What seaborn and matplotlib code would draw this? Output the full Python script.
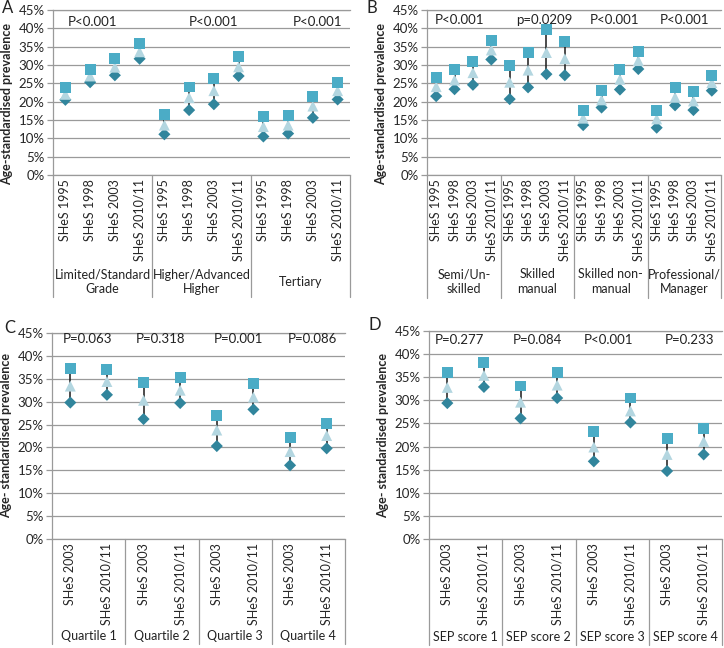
import numpy as np
import pandas as pd
import matplotlib
matplotlib.use("Agg")
import matplotlib.pyplot as plt
import seaborn as sns

# 1. data (values in %)
waves4 = ["SHeS 1995", "SHeS 1998", "SHeS 2003", "SHeS 2010/11"]
waves2 = ["SHeS 2003", "SHeS 2010/11"]

groups_a = ["Limited/Standard\nGrade", "Higher/Advanced\nHigher", "Tertiary"]
upper_a = [23.9, 28.9, 31.7, 35.8, 16.5, 24.0, 26.2, 32.2, 16.0, 16.3, 21.4, 25.1]
est_a = [22.0, 27.0, 29.4, 33.6, 13.6, 21.1, 23.0, 29.5, 13.2, 13.6, 18.8, 23.0]
lower_a = [20.5, 25.3, 27.2, 31.7, 11.1, 17.7, 19.3, 27.0, 10.5, 11.3, 15.6, 20.6]
pvals_a = ["P<0.001", "P<0.001", "P<0.001"]

groups_b = ["Semi/Un-\nskilled", "Skilled\nmanual", "Skilled non-\nmanual", "Professional/\nManager"]
upper_b = [26.7, 28.7, 30.9, 36.6, 29.8, 33.5, 39.6, 36.4, 17.7, 23.0, 28.9, 33.6, 17.6, 23.8, 22.9, 27.2]
est_b = [24.1, 25.9, 27.9, 34.1, 25.3, 28.6, 33.4, 31.7, 15.5, 20.5, 26.1, 31.2, 15.3, 21.2, 20.2, 25.2]
lower_b = [21.5, 23.4, 24.6, 31.5, 20.7, 23.9, 27.5, 27.2, 13.6, 18.4, 23.3, 28.9, 12.9, 19.0, 17.7, 23.0]
pvals_b = ["P<0.001", "p=0.0209", "P<0.001", "P<0.001"]

groups_c = ["Quartile 1", "Quartile 2", "Quartile 3", "Quartile 4"]
upper_c = [37.2, 37.1, 34.2, 35.3, 27.0, 34.0, 22.2, 25.2]
est_c = [33.4, 34.4, 30.3, 32.5, 23.8, 31.0, 19.1, 22.6]
lower_c = [29.8, 31.5, 26.2, 29.7, 20.3, 28.3, 16.1, 19.8]
pvals_c = ["P=0.063", "P=0.318", "P=0.001", "P=0.086"]

groups_d = ["SEP score 1", "SEP score 2", "SEP score 3", "SEP score 4"]
upper_d = [36.1, 38.1, 33.1, 36.0, 23.2, 30.5, 21.7, 23.9]
est_d = [32.8, 35.4, 29.6, 33.3, 19.9, 27.7, 18.3, 21.1]
lower_d = [29.4, 32.9, 26.1, 30.5, 16.8, 25.2, 14.7, 18.3]
pvals_d = ["P=0.277", "P=0.084", "P<0.001", "P=0.233"]

# 2. style
sns.set_theme(style="white")
plt.rcParams["font.family"] = ["Lato", "DejaVu Sans"]
plt.rcParams["text.color"] = "#222222"

palette = {"lower": "#31859C", "estimate": "#B3D6E0", "upper": "#4BACC6"}
markers = {"lower": "D", "estimate": "^", "upper": "s"}
sizes = {"lower": 38, "estimate": 62, "upper": 62}
GRID = "#9a9a9a"
W, H = 724, 648


def draw_panel(box, letter, letter_xy, groups, waves, lower, est, upper,
               pvals, pval_x, pval_y, ylabel, ylabel_y, sep_depth, group_y):
    left, right, top, bottom = box
    ax = fig.add_axes([left / W, 1 - bottom / H, (right - left) / W, (bottom - top) / H])
    n = len(groups) * len(waves)
    x = np.arange(n)
    df = pd.DataFrame({
        "x": np.tile(x, 3),
        "value": lower + est + upper,
        "series": ["lower"] * n + ["estimate"] * n + ["upper"] * n,
    })
    ax.vlines(x, lower, upper, color="#1a1a1a", lw=1.1, zorder=2)
    sns.scatterplot(data=df, x="x", y="value", hue="series", style="series", size="series",
                    palette=palette, markers=markers, sizes=sizes, linewidth=0,
                    legend=False, ax=ax, zorder=3)

    ax.set_xlim(-0.5, n - 0.5)
    ax.set_ylim(0, 45)
    ax.set_yticks(range(0, 50, 5))
    ax.set_yticklabels([f"{v}%" for v in range(0, 50, 5)], fontsize=9.5)
    ax.set_xticks(x)
    ax.set_xticklabels(waves * len(groups), rotation=90, fontsize=9)
    ax.tick_params(axis="x", length=0, pad=3)
    ax.tick_params(axis="y", length=4, width=0.9, color=GRID, direction="out", pad=2, left=True)
    ax.set_xlabel("")
    ax.set_ylabel(ylabel, fontsize=9, fontweight="bold")
    ax.yaxis.set_label_coords(-0.135 * 297 / (right - left), ylabel_y)
    ax.yaxis.grid(True, color=GRID, lw=0.9)
    ax.xaxis.grid(False)
    for s in ["left", "bottom", "top"]:
        ax.spines[s].set_color(GRID)
        ax.spines[s].set_linewidth(0.9)
    ax.spines["right"].set_visible(False)

    # group separators and group labels under the axis
    k = len(waves)
    trans = ax.get_xaxis_transform()
    for b in range(len(groups) + 1):
        ax.plot([b * k - 0.5] * 2, [0, -sep_depth], transform=trans, color=GRID,
                lw=0.9, clip_on=False)
    for i, g in enumerate(groups):
        ax.text(i * k + (k - 1) / 2, group_y, g, transform=trans, ha="center", va="center",
                fontsize=9, linespacing=1.25)

    for px, p in zip(pval_x, pvals):
        ax.text(px, pval_y, p, ha="center", va="center", fontsize=9.5)

    fig.text(letter_xy[0] / W, 1 - letter_xy[1] / H, letter, fontsize=12, ha="left", va="center")
    return ax


fig = plt.figure(figsize=(W / 100, H / 100), dpi=100)

draw_panel((53, 350, 10, 175), "A", (2, 8), groups_a, waves4, lower_a, est_a, upper_a,
           pvals_a, [1.1, 6.0, 10.2], 41.6, "Age-standardised prevalence", 0.43, 0.74, -0.648)
draw_panel((427, 721, 10, 175), "B", (366, 8), groups_b, waves4, lower_b, est_b, upper_b,
           pvals_b, [1.25, 5.9, 9.7, 13.5], 42.3, "Age-standardised prevalence", 0.43, 0.745, -0.645)
draw_panel((52, 345, 333, 539), "C", (4, 328), groups_c, waves2, lower_c, est_c, upper_c,
           pvals_c, [0.46, 2.45, 4.6, 6.6], 43.7, "Age- standardised prevalence", 0.5, 0.51, -0.47)
draw_panel((429, 722, 331, 539), "D", (368, 325), groups_d, waves2, lower_d, est_d, upper_d,
           pvals_d, [0.32, 2.45, 4.4, 6.6], 43.0, "Age- standardised prevalence", 0.5, 0.51, -0.47)

fig.savefig("out.png", dpi=100)
